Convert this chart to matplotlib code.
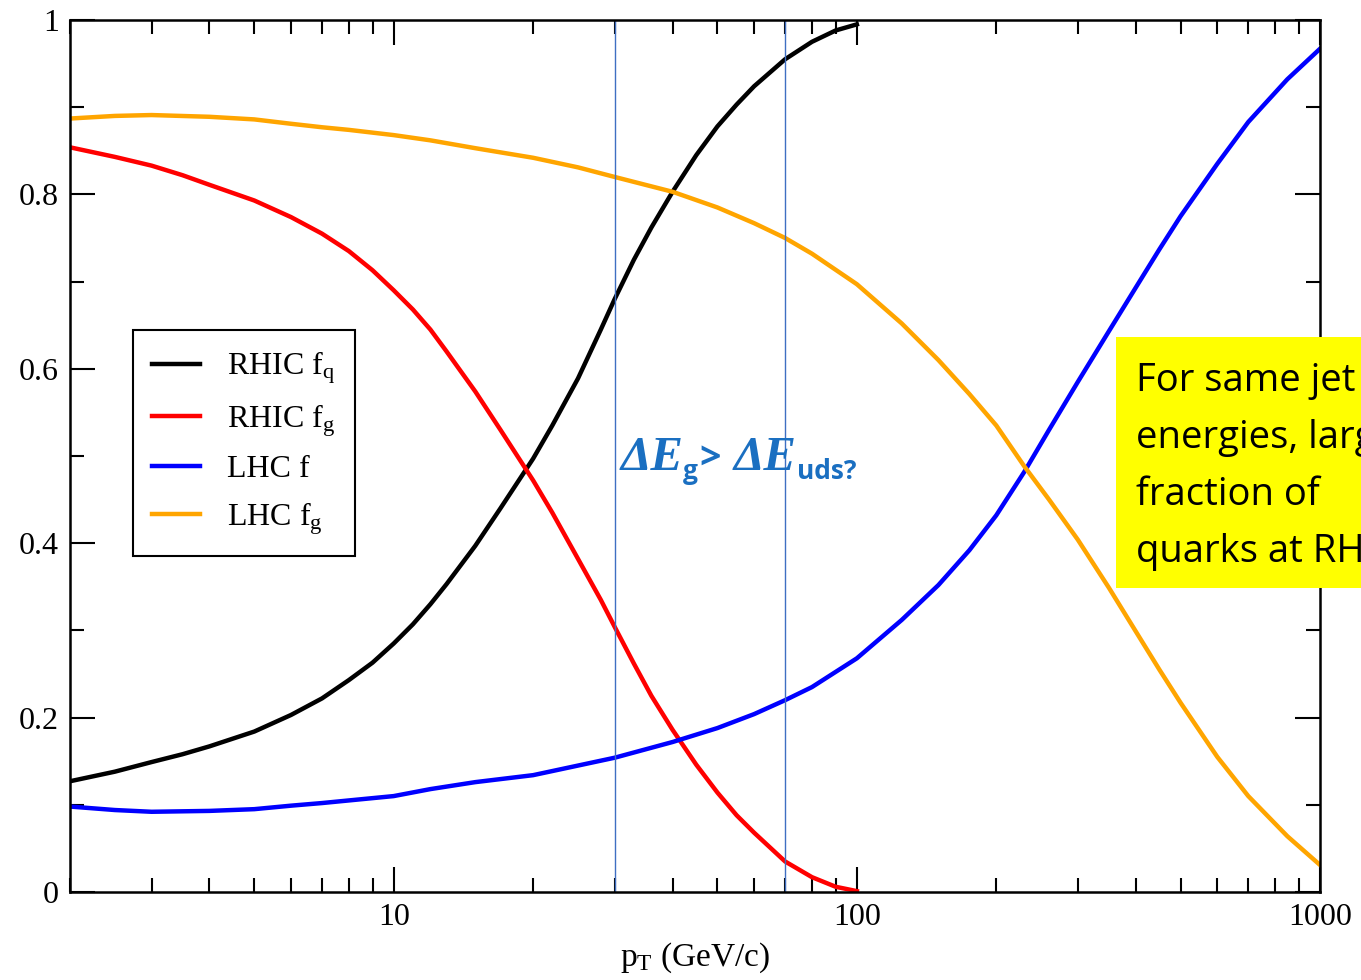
import matplotlib
matplotlib.use("Agg")
import matplotlib.pyplot as plt
from matplotlib.ticker import FixedLocator, MultipleLocator, NullFormatter
from matplotlib.patches import Rectangle

# pT grids (GeV/c)
PT_RHIC = [2, 2.5, 3, 3.5, 4, 5, 6, 7, 8, 9, 10, 11, 12, 13, 15, 17, 20, 22,
           25, 28, 30, 33, 36, 40, 45, 50, 55, 60, 70, 80, 90, 100]
PT_LHC = [2, 2.5, 3, 4, 5, 6, 7, 8, 10, 12, 15, 20, 25, 30, 40, 50, 60, 70,
          80, 100, 125, 150, 175, 200, 230, 260, 300, 350, 400, 450, 500,
          600, 700, 850, 1000]

# quark / gluon jet fractions
RHIC_FQ = [0.127, 0.138, 0.149, 0.158, 0.167, 0.184, 0.203, 0.222, 0.243,
           0.263, 0.285, 0.307, 0.33, 0.353, 0.397, 0.44, 0.497, 0.535,
           0.589, 0.645, 0.68, 0.725, 0.762, 0.803, 0.845, 0.878, 0.903,
           0.924, 0.955, 0.975, 0.988, 0.995]
RHIC_FG = [0.854, 0.843, 0.833, 0.822, 0.811, 0.793, 0.774, 0.755, 0.735,
           0.713, 0.69, 0.668, 0.645, 0.62, 0.574, 0.53, 0.472, 0.435,
           0.382, 0.335, 0.304, 0.262, 0.225, 0.186, 0.146, 0.114, 0.088,
           0.068, 0.035, 0.017, 0.006, 0.001]
LHC_F = [0.098, 0.094, 0.092, 0.093, 0.095, 0.099, 0.102, 0.105, 0.11,
         0.118, 0.126, 0.134, 0.145, 0.154, 0.172, 0.188, 0.204, 0.22,
         0.235, 0.268, 0.312, 0.352, 0.392, 0.432, 0.482, 0.53, 0.585,
         0.643, 0.693, 0.737, 0.775, 0.835, 0.883, 0.932, 0.967]
LHC_FG = [0.887, 0.89, 0.891, 0.889, 0.886, 0.881, 0.877, 0.874, 0.868,
          0.862, 0.853, 0.842, 0.831, 0.82, 0.803, 0.785, 0.767, 0.75,
          0.732, 0.697, 0.652, 0.61, 0.571, 0.535, 0.488, 0.45, 0.404,
          0.349, 0.299, 0.255, 0.217, 0.155, 0.11, 0.064, 0.031]

PT_CUTS = [30, 70]

plt.rcParams['font.family'] = ['Liberation Serif', 'DejaVu Serif']
plt.rcParams['mathtext.fontset'] = 'custom'
plt.rcParams['mathtext.rm'] = 'Liberation Serif'
plt.rcParams['mathtext.it'] = 'Liberation Serif:italic'
plt.rcParams['lines.solid_joinstyle'] = 'round'

fig = plt.figure(figsize=(13.61, 9.80), dpi=100)
ax = fig.add_axes([70 / 1361, 1 - 892 / 980, 1250 / 1361, 872 / 980])

ax.plot(PT_RHIC, RHIC_FQ, color='black', lw=3.2, label=r'RHIC f$_{\mathrm{q}}$')
ax.plot(PT_RHIC, RHIC_FG, color='red', lw=3.2, label=r'RHIC f$_{\mathrm{g}}$')
ax.plot(PT_LHC, LHC_F, color='blue', lw=3.2, label='LHC f')
ax.plot(PT_LHC, LHC_FG, color='orange', lw=3.2, label=r'LHC f$_{\mathrm{g}}$')

for c in PT_CUTS:
    ax.axvline(c, color='#3f6fc2', lw=1.0)

ax.set_xscale('log')
ax.set_xlim(2, 1000)
ax.set_ylim(0, 1)
ax.xaxis.set_major_locator(FixedLocator([10, 100, 1000]))
ax.set_xticklabels(['10', '100', '1000'])
ax.xaxis.set_minor_locator(FixedLocator(
    [d * m for d in (1, 10, 100) for m in range(2, 10) if d * m >= 2]))
ax.xaxis.set_minor_formatter(NullFormatter())
ax.set_yticks([0, 0.2, 0.4, 0.6, 0.8, 1.0])
ax.set_yticklabels(['0', '0.2', '0.4', '0.6', '0.8', '1'])
ax.yaxis.set_minor_locator(MultipleLocator(0.1))

ax.tick_params(which='both', direction='in', top=True, right=True,
               labelsize=23, width=1.5, pad=8)
ax.tick_params(which='major', length=18)
ax.tick_params(which='minor', length=10)
for s in ax.spines.values():
    s.set_linewidth(1.8)

ax.set_xlabel(r'p$_{\mathrm{T}}$ (GeV/c)', fontsize=24, labelpad=6)

leg = ax.legend(loc='upper left', bbox_to_anchor=(0.0504, 0.644),
                borderaxespad=0, fontsize=23, fancybox=False,
                edgecolor='black', framealpha=1, handlelength=1.5,
                handletextpad=0.85, labelspacing=0.5, borderpad=0.6)
leg.get_frame().set_linewidth(1.5)

# annotation between the two pT cuts
blue = '#1a6fc1'
fig.text(621 / 1361, 1 - 470 / 980, 'ΔE', color=blue, fontsize=35,
         fontweight='bold', fontstyle='italic', family='Liberation Serif',
         va='baseline')
fig.text(683 / 1361, 1 - 479 / 980, 'g', color=blue, fontsize=19,
         fontweight='bold', family='Open Sans', va='baseline')
fig.text(699 / 1361, 1 - 469 / 980, '>', color=blue, fontsize=27,
         fontweight='bold', family='Open Sans', va='baseline')
fig.text(734 / 1361, 1 - 470 / 980, 'ΔE', color=blue, fontsize=35,
         fontweight='bold', fontstyle='italic', family='Liberation Serif',
         va='baseline')
fig.text(797 / 1361, 1 - 479 / 980, 'uds?', color=blue, fontsize=19,
         fontweight='bold', family='Open Sans', va='baseline')

# yellow note box running off the right edge
fig.patches.append(Rectangle((1116 / 1361, 1 - 588 / 980), 0.3, 251 / 980,
                             transform=fig.transFigure, facecolor='#ffff00',
                             edgecolor='none', zorder=5))
note = ['For same jet', 'energies, larger', 'fraction of', 'quarks at RHIC']
for i, line in enumerate(note):
    fig.text(1136 / 1361, 1 - (391 + 57 * i) / 980, line, fontsize=27.5,
             family='Open Sans', color='black', va='baseline', zorder=6)

fig.savefig('out.png', dpi=100)
